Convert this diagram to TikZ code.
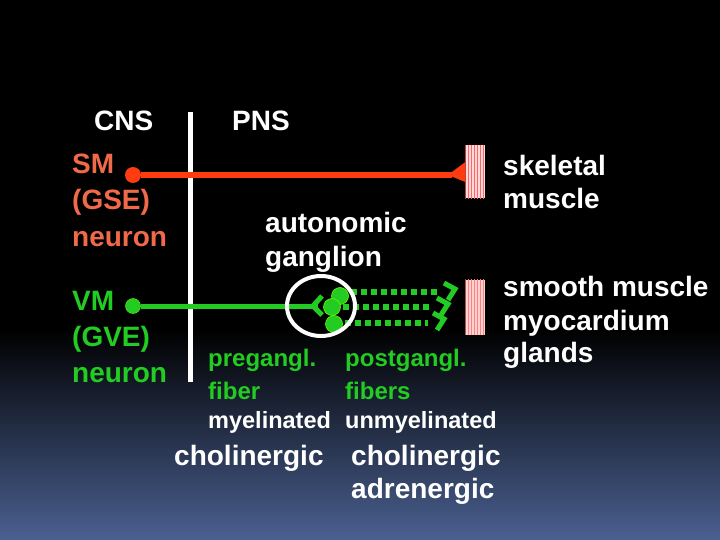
\documentclass[tikz,border=0pt]{standalone}
\usepackage{fontspec}
\setmainfont{Liberation Sans}
\usetikzlibrary{patterns}
\definecolor{sal}{HTML}{F06A4A}
\definecolor{redl}{HTML}{FF3B10}
\definecolor{grn}{HTML}{22CC22}
\definecolor{bot}{HTML}{4A6090}
\begin{document}
\begin{tikzpicture}[x=1pt,y=-1pt,
  lab/.style={font=\fontsize{28}{30}\selectfont\bfseries, text=white, inner sep=0, anchor=base west},
  gl/.style={font=\fontsize{24}{27}\selectfont\bfseries, text=grn, inner sep=0, anchor=base west},
  sm/.style={font=\fontsize{23.5}{27}\selectfont\bfseries, text=white, inner sep=0, anchor=base west},
  dots/.style={grn, line width=5.5pt, dash pattern=on 6pt off 4pt},
  fork/.style={grn, line width=5pt},
  cell/.style={circle, fill=grn, draw=green!60!yellow, line width=0.6pt, minimum size=17pt, inner sep=0}]
\useasboundingbox (0,0) rectangle (720,540);
\fill[black] (0,0) rectangle (720,330);
\shade[top color=black, bottom color=bot] (0,329) rectangle (720,540);
% divider
\draw[white, line width=5pt] (190,112) -- (190,382);
% headers
\node[lab] (cns) at (94,131) {CNS};
\node[lab] (pns) at (232,131) {PNS};
% SM / VM neurons labels
\node[lab, text=sal] (sm1) at (72,174) {SM};
\node[lab, text=sal] (sm2) at (72,210) {(GSE)};
\node[lab, text=sal] (sm3) at (72,246) {neuron};
\node[lab, text=grn] (vm1) at (72,310) {VM};
\node[lab, text=grn] (vm2) at (72,346) {(GVE)};
\node[lab, text=grn] (vm3) at (72,382) {neuron};
% muscles
\node[fill=pink!60, minimum width=19pt, minimum height=53pt, inner sep=0] (skm) at (475,172) {};
\fill[pattern=vertical lines, pattern color=red!60] (skm.south west) rectangle (skm.north east);
\node[fill=pink!70, minimum width=19pt, minimum height=55pt, inner sep=0] (smm) at (475,307) {};
\fill[pattern=vertical lines, pattern color=red!50] (smm.south west) rectangle (smm.north east);
% red neuron
\node[circle, fill=redl, minimum size=16pt, inner sep=0] (smb) at (133,175) {};
\draw[redl, line width=6pt] (smb) -- (452,175);
\fill[redl] (skm.west) ++(0,-10) -- ++(0,20) -- (448,175) -- cycle;
% green neuron
\node[circle, fill=grn, draw=green!60!yellow, minimum width=10pt, minimum height=15pt, inner sep=0] (vmb) at (133,306) {};
\node[cell] (c1) at (340,296) {};
\node[cell] (c2) at (332,307) {};
\node[cell] (c3) at (334,324) {};
\draw[grn, line width=5pt] (vmb) -- (318,306);
\draw[fork] (322,296) -- (313,306) -- (322,315);
% dotted postganglionic
\draw[dots] (c1.east) ++(2,-4) -- (440,292);
\draw[dots] (c2.east) ++(2,0) -- (432,307);
\draw[dots] (c3.east) ++(2,-1) -- (428,323);
\draw[fork] (444,283) -- (455,289) -- (448,300);
\draw[fork] (437,298) -- (448,304) -- (441,315);
\draw[fork] (433,313) -- (444,319) -- (437,330);
% ganglion circle
\draw[white, line width=4pt] (321,306) ellipse (34pt and 30pt);
% labels
\node[lab] (au1) at (265,233) {autonomic};
\node[lab] (au2) at (265,266) {ganglion};
\node[lab] (sk1) at (503,176) {skeletal};
\node[lab] (sk2) at (503,208) {muscle};
\node[lab] (sl1) at (503,296) {smooth muscle};
\node[lab] (sl2) at (503,330) {myocardium};
\node[lab] (sl3) at (503,362) {glands};
\node[gl] (pre1) at (208,366) {pregangl.};
\node[gl] (pre2) at (208,399) {fiber};
\node[gl] (post1) at (345,366) {postgangl.};
\node[gl] (post2) at (345,399) {fibers};
\node[sm] (mye) at (208,428) {myelinated};
\node[sm] (unm) at (345,428) {unmyelinated};
\node[lab] (ch1) at (174,465) {cholinergic};
\node[lab] (ch2) at (351,465) {cholinergic};
\node[lab] (ad) at (351,498) {adrenergic};
\end{tikzpicture}
\end{document}
